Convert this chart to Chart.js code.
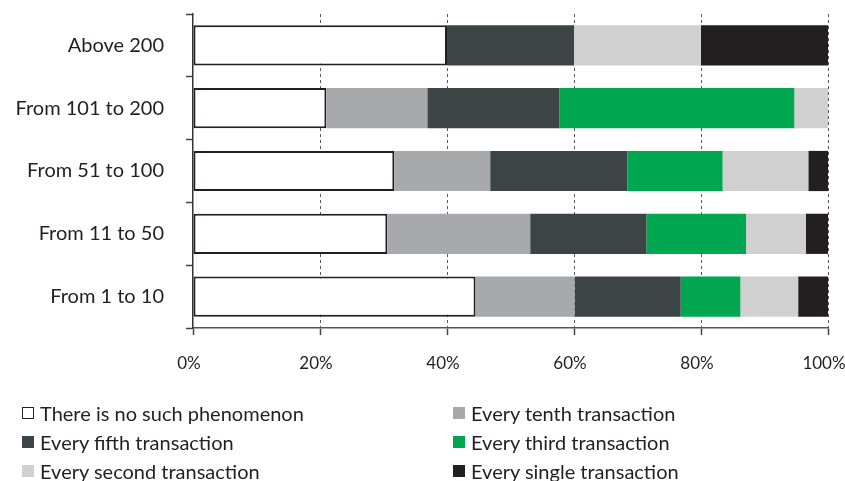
<!DOCTYPE html>
<html>
<head>
<meta charset="utf-8">
<script src="https://cdn.jsdelivr.net/npm/chart.js@4/dist/chart.umd.min.js"></script>
<style>
  html, body { margin: 0; padding: 0; background: #fff; }
  body { width: 845px; height: 481px; overflow: hidden; position: relative; font-family: Lato, "Open Sans", sans-serif; }
  #wrap { position: absolute; left: 0; top: 0; width: 845px; height: 400px; }
  #legend { position: absolute; left: 22px; top: 398px; display: grid; grid-template-columns: 431px 340px; }
  .item { display: flex; align-items: center; height: 29px; font-size: 20px; color: #231f20; white-space: nowrap; }
  .sw { width: 12px; height: 12px; margin-right: 6px; box-sizing: border-box; flex: none; }
</style>
</head>
<body>
<div id="wrap"><canvas id="chart"></canvas></div>
<div id="legend"></div>
<script>
// Number of transactions per group (share of respondents, %)
const categories = ['Above 200', 'From 101 to 200', 'From 51 to 100', 'From 11 to 50', 'From 1 to 10'];
const noPhenomenon = [40.0, 21.0, 31.7, 30.6, 44.5];
const everyTenth   = [0.0, 15.9, 15.1, 22.5, 15.6];
const everyFifth   = [20.0, 20.8, 21.6, 18.3, 16.7];
const everyThird   = [0.0, 37.0, 15.0, 15.7, 9.4];
const everySecond  = [20.0, 5.3, 13.5, 9.4, 9.1];
const everySingle  = [20.0, 0.0, 3.1, 3.5, 4.7];
const xTicks = [0, 20, 40, 60, 80, 100];

const series = [
  { label: 'There is no such phenomenon', data: noPhenomenon, color: '#ffffff', border: '#231f20', bw: 2 },
  { label: 'Every tenth transaction',     data: everyTenth,   color: '#a7a9ac' },
  { label: 'Every fifth transaction',     data: everyFifth,   color: '#3c4446' },
  { label: 'Every third transaction',     data: everyThird,   color: '#00a650' },
  { label: 'Every second transaction',    data: everySecond,  color: '#d0d0d0' },
  { label: 'Every single transaction',    data: everySingle,  color: '#231f20' }
];

const chart = new Chart(document.getElementById('chart'), {
  type: 'bar',
  data: {
    labels: categories,
    datasets: series.map(s => ({
      label: s.label,
      data: s.data,
      backgroundColor: s.color,
      borderColor: s.border || s.color,
      borderWidth: s.bw || 0,
      borderSkipped: false,
      barPercentage: 0.64,
      categoryPercentage: 1.0
    }))
  },
  options: {
    indexAxis: 'y',
    responsive: true,
    maintainAspectRatio: false,
    animation: false,
    layout: { padding: { top: 14, right: 17, bottom: 22, left: 0 } },
    plugins: { legend: { display: false }, tooltip: { enabled: false } },
    scales: {
      x: {
        stacked: true,
        min: 0,
        max: 100,
        afterBuildTicks: scale => { scale.ticks = xTicks.map(v => ({ value: v })); },
        afterFit: scale => {
          scale.height = 50;
          scale.paddingLeft = 0;
          scale.paddingRight = 0;
        },
        ticks: {
          callback: v => v + '%',
          font: { family: 'Lato', size: 17 },
          color: '#231f20',
          padding: 18,
          labelOffset: -4,
          maxRotation: 0
        },
        grid: {
          color: ctx => ctx.index === 0 ? 'rgba(0,0,0,0)' : '#5a5a5a',
          lineWidth: 1,
          tickColor: '#444',
          tickLength: 7,
          tickBorderDash: [],
          tickWidth: 1.5
        },
        border: { display: true, color: '#555', width: 1.5, dash: [3, 3] }
      },
      y: {
        stacked: true,
        afterFit: scale => {
          scale.width = 193;
          scale.paddingTop = 0;
          scale.paddingBottom = 0;
        },
        ticks: {
          font: { family: 'Lato', size: 20 },
          color: '#231f20',
          padding: 22
        },
        grid: {
          offset: true,
          drawOnChartArea: false,
          drawTicks: true,
          tickLength: 7,
          tickColor: '#444',
          tickWidth: 1.5
        },
        border: { display: true, color: '#333', width: 1.5 }
      }
    }
  }
});

// Two-column legend below the plot, built from the datasets
const legendEl = document.getElementById('legend');
chart.data.datasets.forEach(ds => {
  const item = document.createElement('div');
  item.className = 'item';
  const sw = document.createElement('span');
  sw.className = 'sw';
  sw.style.background = ds.backgroundColor;
  if (ds.borderWidth) sw.style.border = '1.5px solid ' + ds.borderColor;
  const txt = document.createElement('span');
  txt.textContent = ds.label;
  item.appendChild(sw);
  item.appendChild(txt);
  legendEl.appendChild(item);
});
</script>
</body>
</html>
